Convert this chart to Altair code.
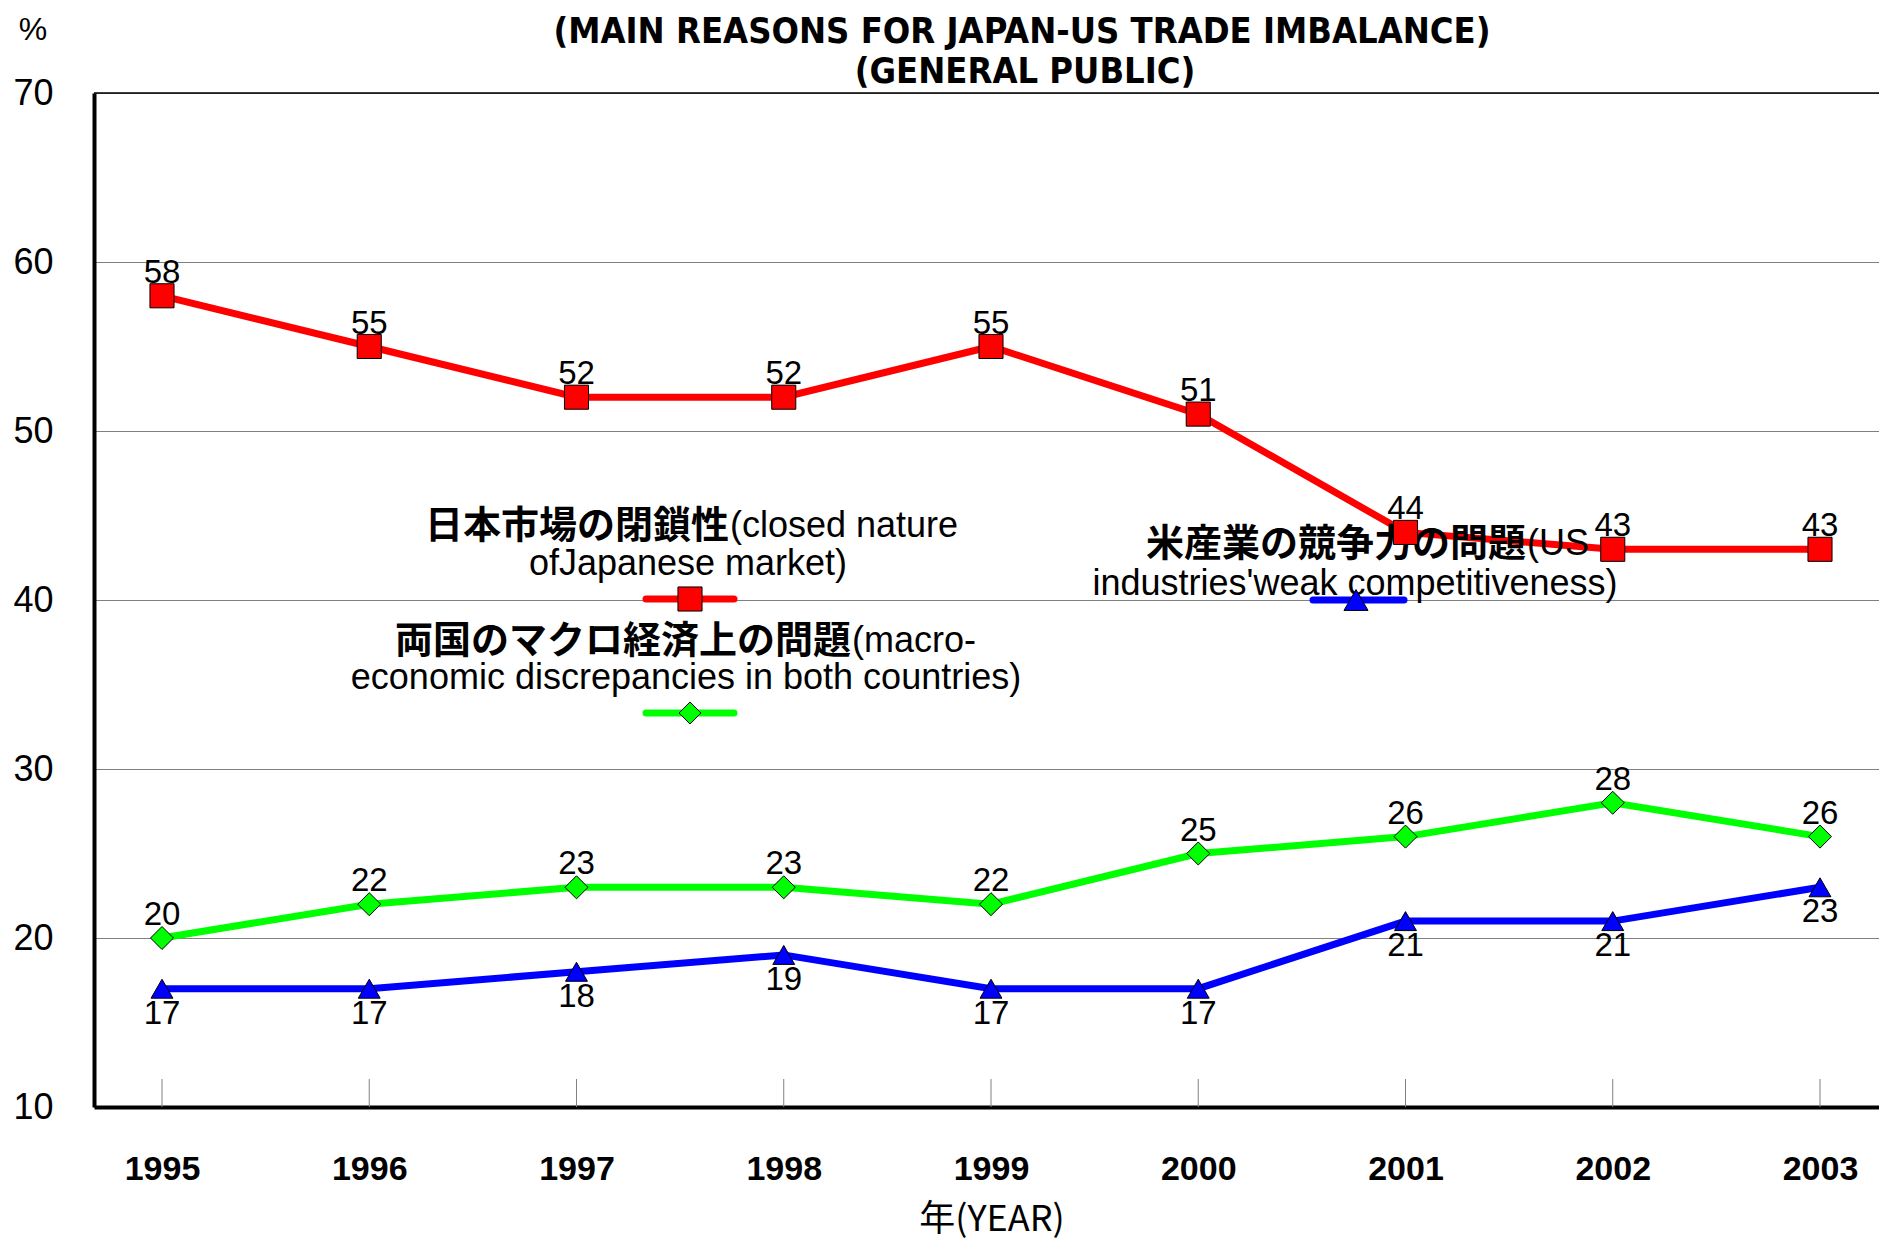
import altair as alt
import pandas as pd

# ---------------- data ----------------
years = [1995, 1996, 1997, 1998, 1999, 2000, 2001, 2002, 2003]
closed_market = [58, 55, 52, 52, 55, 51, 44, 43, 43]
macro_economic = [20, 22, 23, 23, 22, 25, 26, 28, 26]
us_competitiveness = [17, 17, 18, 19, 17, 17, 21, 21, 23]

series_keys = ["closed", "macro", "us"]
series_colors = ["#FF0000", "#00FF00", "#0000FF"]
series_shapes = ["square", "diamond", "triangle-up"]
series_sizes = [580, 480, 580]

legend_ja = ["日本市場の閉鎖性", "両国のマクロ経済上の問題", "米産業の競争力の問題"]
legend_en1 = ["(closed nature", "(macro-", "(US"]
legend_en2 = ["ofJapanese market)", "economic discrepancies in both countries)",
              "industries'weak competitiveness)"]

title_lines = ["(MAIN REASONS FOR JAPAN-US TRADE IMBALANCE)", "(GENERAL PUBLIC)"]
y_unit = "%"
x_title = "年(YEAR)"
y_ticks = [10, 20, 30, 40, 50, 60, 70]

# ---------------- layout ----------------
W, H = 1785, 1014
LAT = "Liberation Sans, Arial, sans-serif"
CJK = "Noto Sans CJK JP"
TITLEF = "DejaVu Sans Condensed, DejaVu Sans, sans-serif"

rows = []
for key, vals in zip(series_keys, [closed_market, macro_economic, us_competitiveness]):
    for yr, v in zip(years, vals):
        rows.append({"year": yr, "value": v, "series": key})
df = pd.DataFrame(rows)

color_scale = alt.Scale(domain=series_keys, range=series_colors)
shape_scale = alt.Scale(domain=series_keys, range=series_shapes)
size_scale = alt.Scale(domain=series_keys, range=series_sizes)

x_scale = alt.Scale(domain=[1994.6719, 2003.2847], nice=False, zero=False)
y_scale = alt.Scale(domain=[10, 70], nice=False, zero=False)

x_axis = alt.Axis(values=years, format="d", title=None, grid=False, ticks=False,
                  domain=True, domainColor="black", domainWidth=4,
                  labelFont=LAT, labelFontWeight="bold", labelFontSize=34,
                  labelPadding=45, labelColor="black", labelFlush=False,
                  labelOverlap=False)
y_axis = alt.Axis(values=y_ticks, title=None, grid=True, gridColor="#808080",
                  gridWidth=1, ticks=False, domain=True, domainColor="black",
                  domainWidth=4, labelFont=LAT, labelFontSize=36, labelPadding=41,
                  labelColor="black", labelOverlap=False)

X = alt.X("year:Q", scale=x_scale, axis=x_axis)
Y = alt.Y("value:Q", scale=y_scale, axis=y_axis)

ticks_df = pd.DataFrame({"year": years})
inner_ticks = alt.Chart(ticks_df).mark_rule(color="#808080", strokeWidth=1).encode(
    x=X, y=alt.value(H - 28), y2=alt.value(H),
)

top_df = pd.DataFrame({"value": [y_ticks[-1]]})
top_rule = alt.Chart(top_df).mark_rule(color="black", strokeWidth=1.5).encode(y=Y)

lines = alt.Chart(df).mark_line(strokeWidth=7).encode(
    x=X, y=Y,
    color=alt.Color("series:N", scale=color_scale, legend=None),
    detail="series:N",
)

points = alt.Chart(df).mark_point(filled=True, opacity=1, stroke="black",
                                  strokeWidth=1).encode(
    x=X, y=Y,
    fill=alt.Fill("series:N", scale=color_scale, legend=None),
    shape=alt.Shape("series:N", scale=shape_scale, legend=None),
    size=alt.Size("series:N", scale=size_scale, legend=None),
)

labels_above = alt.Chart(df).transform_filter(
    alt.FieldOneOfPredicate(field="series", oneOf=["closed", "macro"])
).mark_text(font=LAT, fontSize=33, color="black", dy=-23, baseline="middle").encode(
    x=X, y=Y, text="value:Q",
)
labels_below = alt.Chart(df).transform_filter(
    alt.FieldEqualPredicate(field="series", equal="us")
).mark_text(font=LAT, fontSize=33, color="black", dy=25, baseline="middle").encode(
    x=X, y=Y, text="value:Q",
)

layers = [lines, inner_ticks, top_rule]

# ---------- legend drawn inside the plot ----------
legend_layout = [
    # split_x, line1_y, line2_x, line2_y, sym_x, sym_y, seg_x0, seg_x1
    (635, 444, 594, 482, 596, 506, 552, 640),
    (757, 559, 592, 596, 596, 620, 552, 640),
    (1432, 462, 1261, 502, 1262, 507, 1219, 1310),
]
for i, (sx, l1y, l2x, l2y, px, py, s0, s1) in enumerate(legend_layout):
    tdf = pd.DataFrame({"ja": [legend_ja[i]], "en1": [legend_en1[i]],
                        "en2": [legend_en2[i]], "series": [series_keys[i]]})
    layers.append(alt.Chart(tdf).mark_text(font=CJK, fontWeight="bold", fontSize=38,
                                           align="right", baseline="alphabetic",
                                           color="black").encode(
        x=alt.value(sx), y=alt.value(l1y + 1), text="ja:N"))
    layers.append(alt.Chart(tdf).mark_text(font=LAT, fontSize=36, align="left",
                                           baseline="alphabetic", color="black").encode(
        x=alt.value(sx + 1), y=alt.value(l1y), text="en1:N"))
    layers.append(alt.Chart(tdf).mark_text(font=LAT, fontSize=36, align="center",
                                           baseline="alphabetic", color="black").encode(
        x=alt.value(l2x), y=alt.value(l2y), text="en2:N"))
    layers.append(alt.Chart(tdf).mark_rule(color=series_colors[i], strokeWidth=7,
                                           strokeCap="round").encode(
        x=alt.value(s0), x2=alt.value(s1), y=alt.value(py)))
    layers.append(alt.Chart(tdf).mark_point(filled=True, opacity=1, stroke="black",
                                            strokeWidth=1,
                                            shape=series_shapes[i],
                                            size=series_sizes[i],
                                            fill=series_colors[i]).encode(
        x=alt.value(px), y=alt.value(py)))

layers += [points, labels_above, labels_below]

# ---------- titles ----------
tdf1 = pd.DataFrame({"t": [title_lines[0]]})
tdf2 = pd.DataFrame({"t": [title_lines[1]]})
udf = pd.DataFrame({"t": [y_unit]})
xdf = pd.DataFrame({"t": [x_title]})
layers.append(alt.Chart(tdf1).mark_text(font=TITLEF, fontWeight="bold", fontSize=36,
                                        align="center", baseline="alphabetic",
                                        color="black").encode(
    x=alt.value(928), y=alt.value(-50), text="t:N"))
layers.append(alt.Chart(tdf2).mark_text(font=TITLEF, fontWeight="bold", fontSize=36,
                                        align="center", baseline="alphabetic",
                                        color="black").encode(
    x=alt.value(931), y=alt.value(-10), text="t:N"))
layers.append(alt.Chart(udf).mark_text(font=LAT, fontSize=32, align="center",
                                       baseline="alphabetic", color="black").encode(
    x=alt.value(-61), y=alt.value(-53), text="t:N"))
layers.append(alt.Chart(xdf).mark_text(font="Noto Sans CJK JP", fontSize=36,
                                       align="center", baseline="alphabetic",
                                       color="black").encode(
    x=alt.value(898), y=alt.value(1138), text="t:N"))

chart = alt.layer(*layers).properties(
    width=W, height=H,
    autosize=alt.AutoSizeParams(type="none"),
    padding={"left": 86, "top": 85, "right": 0, "bottom": 139},
).configure_view(stroke=None).configure(background="white")

chart.save("out.html", embed_options={"renderer": "svg", "actions": False})
